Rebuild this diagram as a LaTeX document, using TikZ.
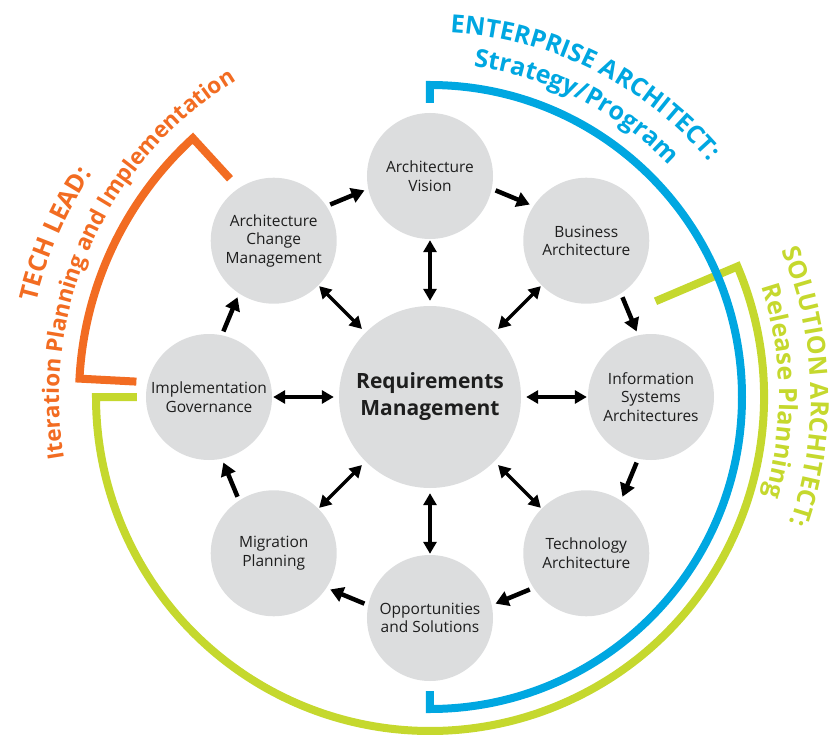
\documentclass[tikz,border=0pt]{standalone}
\usepackage{fontspec}
\setmainfont{Open Sans}
\usetikzlibrary{arrows.meta,decorations.text,calc}
\definecolor{eablue}{RGB}{0,167,225}
\definecolor{sagreen}{RGB}{197,216,46}
\definecolor{tlorange}{RGB}{242,108,34}
\definecolor{bubble}{RGB}{220,221,222}
\definecolor{ink}{RGB}{30,30,30}
\newcommand\lblfont{\fontsize{25}{30}\selectfont\bfseries}
\newcommand\lblfontsm{\fontsize{22.5}{27}\selectfont\bfseries}
\begin{document}
\begin{tikzpicture}[x=1pt,y=1pt,
  phase/.style={circle,fill=bubble,minimum size=126pt,inner sep=0pt,align=center,text=ink,font=\fontsize{15.5}{18.5}\selectfont},
  hub/.style={circle,fill=bubble,minimum size=182pt,inner sep=0pt,align=center,text=ink,font=\fontsize{21}{27}\selectfont\bfseries},
  cyc/.style={line width=4.5pt,-{Triangle[length=13pt,width=15pt]}},
  dbl/.style={line width=3.2pt,{Triangle[length=12pt,width=13pt]}-{Triangle[length=12pt,width=13pt]},shorten <=1pt,shorten >=5pt},
  band/.style={line width=8pt,line join=miter}]
\useasboundingbox (-430,-337) rectangle (403,397);

% role arcs
\draw[band,sagreen] (23:245) -- (23:334) arc[start angle=23,end angle=-180,radius=334] -- (180:293);
\draw[band,eablue] (90:294) -- (90:312) arc[start angle=90,end angle=-90,radius=312] -- (-90:294);
\draw[band,tlorange] (177:294) -- (177:351) arc[start angle=177,end angle=132.5,radius=351] -- (132.5:296);

% role labels
\path[decorate,decoration={text along path,text align=center,text={|\lblfont\color{eablue}|ENTERPRISE ARCHITECT:}}]
  (123.5:365) arc[start angle=123.5,end angle=3.5,radius=365];
\path[decorate,decoration={text along path,text align=center,text={|\lblfont\color{eablue}|Strategy/Program}}]
  (123.3:333) arc[start angle=123.3,end angle=3.3,radius=333];
\path[decorate,decoration={text along path,text align=center,text={|\lblfont\color{sagreen}|SOLUTION ARCHITECT:}}]
  (61.6:381) arc[start angle=61.6,end angle=-58.4,radius=381];
\path[decorate,decoration={text along path,text align=center,text={|\lblfont\color{sagreen}|Release Planning}}]
  (61:349) arc[start angle=61,end angle=-59,radius=349];
\path[decorate,decoration={text along path,text align=center,text={|\lblfont\color{tlorange}|TECH LEAD:}}]
  (216.5:405) arc[start angle=216.5,end angle=96.5,radius=405];
\path[decorate,decoration={text along path,text align=center,text={|\lblfontsm\color{tlorange}|Iteration Planning and Implementation}}]
  (215.5:371) arc[start angle=215.5,end angle=95.5,radius=371];

% phases
\node[hub] (req) at (0,0) {Requirements\\Management};
\node[phase] (vision) at (90:221) {Architecture\\Vision};
\node[phase] (business) at (45:221) {Business\\Architecture};
\node[phase] (info) at (0:221) {Information\\Systems\\Architectures};
\node[phase] (tech) at (-45:221) {Technology\\Architecture};
\node[phase] (opp) at (-90:221) {Opportunities\\and Solutions};
\node[phase] (mig) at (-135:221) {Migration\\Planning};
\node[phase] (impl) at (180:221) {Implementation\\Governance};
\node[phase] (change) at (135:221) {Architecture\\Change\\Management};

% cycle arrows
\foreach \m [count=\i] in {67.5,22.5,-22.5,-67.5,-112.5,-157.5,157.5,112.5} {
  \coordinate (s\i) at ($(\m:216)+({\m+90}:18.5)$);
  \coordinate (e\i) at ($(\m:216)+({\m-90}:18.5)$);
  \draw[cyc] (s\i) -- (e\i);
}

% exchanges with requirements management
\foreach \n in {vision,business,info,tech,opp,mig,impl,change}
  \draw[dbl] (\n) -- (req);
\end{tikzpicture}
\end{document}
